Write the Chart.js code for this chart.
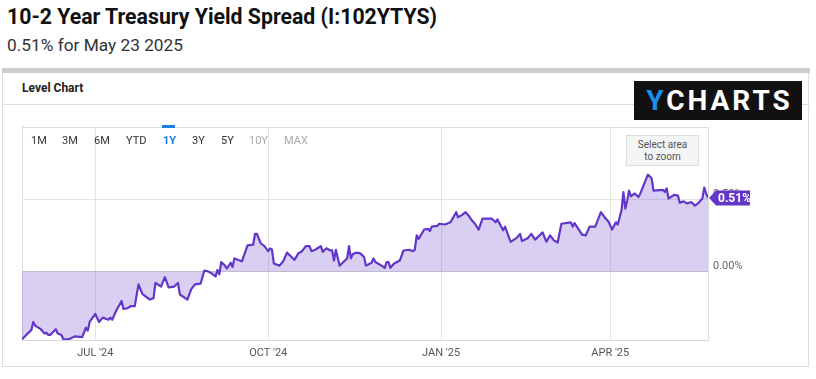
<!DOCTYPE html>
<html>
<head>
<meta charset="utf-8">
<script src="https://cdn.jsdelivr.net/npm/chart.js@4.4.1/dist/chart.umd.min.js"></script>
<style>
  html, body { margin: 0; padding: 0; background: #fff; width: 816px; height: 379px; overflow: hidden; font-family: Roboto, "Noto Sans", sans-serif; }
  .abs { position: absolute; white-space: nowrap; }
  #title { left: 7px; top: 4px; font-size: 22px; font-weight: 700; color: #111; transform-origin: 0 0; }
  #subtitle { left: 7px; top: 35px; font-size: 17px; color: #333; transform-origin: 0 0; }
  #topbar { left: 2px; top: 68px; width: 808px; height: 5px; background: #cccccc; }
  #card { left: 2px; top: 73px; width: 807px; height: 294px; border: 1px solid #dddddd; border-top: none; box-sizing: border-box; }
  #sep { left: 2px; top: 104px; width: 808px; height: 1px; background: #dddddd; }
  #level { left: 22px; top: 81px; font-size: 12px; font-weight: 700; color: #222; }
  #logo { left: 634px; top: 81px; width: 168px; height: 39px; background: #111; color: #fff; font-size: 28px; font-weight: 700; line-height: 40px; text-align: center; letter-spacing: 3px; text-indent: 3px; }
  #logo span { color: #1a8fe8; }
  canvas { position: absolute; left: 0; top: 0; }
  .btn { top: 134px; font-size: 11px; color: #333; }
  #activebar { left: 162px; top: 125px; width: 13px; height: 3px; background: #1a7fe0; }
  #zoombox { left: 626px; top: 135px; width: 73px; height: 31px; background: #f4f5f5; border: 1px solid #dddddd; box-sizing: border-box; font-size: 10px; color: #555; text-align: center; line-height: 12px; padding-top: 3px; }
</style>
</head>
<body>
<div id="title" class="abs">10-2 Year Treasury Yield Spread (I:102YTYS)</div>
<div id="subtitle" class="abs">0.51% for May 23 2025</div>
<div id="topbar" class="abs"></div>
<div id="card" class="abs"></div>
<div id="sep" class="abs"></div>
<div id="level" class="abs">Level Chart</div>
<div id="logo" class="abs"><span>Y</span>CHARTS</div>
<canvas id="c" width="816" height="379"></canvas>
<div id="activebar" class="abs"></div>
<div class="abs btn" style="left:31px">1M</div>
<div class="abs btn" style="left:62px">3M</div>
<div class="abs btn" style="left:94px">6M</div>
<div class="abs btn" style="left:126px">YTD</div>
<div class="abs btn" style="left:163px;color:#1a7fe0;font-weight:700">1Y</div>
<div class="abs btn" style="left:192px">3Y</div>
<div class="abs btn" style="left:221px">5Y</div>
<div class="abs btn" style="left:249px;color:#aaa">10Y</div>
<div class="abs btn" style="left:284px;color:#aaa">MAX</div>
<div id="zoombox" class="abs">Select area<br>to zoom</div>
<script>
// ---- Data (days since start date, spread in %) ----
const startDate = '2024-05-23';
const dayOffsets = [0,5,6,7,10,12,13,14,15,18,19,21,22,25,28,32,34,35,36,39,41,43,46,47,48,50,53,54,56,58,60,62,64,68,70,71,74,76,78,81,83,84,88,90,92,95,97,99,101,103,104,105,106,108,109,111,112,113,117,120,123,124,125,127,129,131,132,133,134,137,139,141,143,145,147,149,151,153,154,156,159,160,162,164,165,166,167,169,171,173,174,175,176,178,180,182,183,186,187,188,190,193,194,195,196,198,201,203,206,208,209,210,211,214,216,217,218,221,222,225,228,231,232,234,236,238,239,241,243,245,250,252,253,255,256,257,260,263,265,266,269,271,273,275,277,279,281,283,285,287,292,293,294,296,298,300,302,305,308,310,312,314,316,317,318,319,320,321,322,323,324,325,326,328,329,333,335,336,341,342,343,344,347,349,350,352,354,356,357,358,360,362,363,364,365];
const spreadValues = [-0.47,-0.405,-0.35,-0.375,-0.40,-0.43,-0.425,-0.44,-0.44,-0.40,-0.43,-0.44,-0.47,-0.47,-0.45,-0.455,-0.39,-0.41,-0.35,-0.295,-0.35,-0.32,-0.335,-0.32,-0.335,-0.275,-0.205,-0.26,-0.255,-0.24,-0.24,-0.09,-0.155,-0.195,-0.185,-0.08,-0.105,-0.04,-0.11,-0.105,-0.08,-0.16,-0.195,-0.125,-0.09,-0.085,0.005,0.00,-0.015,-0.035,0.01,-0.02,0.065,0.04,0.02,0.06,0.03,0.09,0.07,0.18,0.185,0.26,0.26,0.195,0.175,0.14,0.16,0.15,0.055,0.04,0.07,0.13,0.105,0.08,0.125,0.14,0.175,0.175,0.14,0.15,0.175,0.135,0.16,0.145,0.145,0.075,0.15,0.04,0.065,0.09,0.175,0.09,0.12,0.13,0.125,0.10,0.04,0.06,0.09,0.065,0.05,0.025,0.065,0.065,0.025,0.055,0.075,0.145,0.15,0.14,0.15,0.25,0.225,0.29,0.295,0.28,0.31,0.315,0.33,0.325,0.34,0.41,0.375,0.39,0.41,0.38,0.36,0.33,0.29,0.365,0.365,0.34,0.36,0.31,0.285,0.31,0.205,0.23,0.26,0.21,0.23,0.26,0.22,0.245,0.27,0.205,0.25,0.215,0.20,0.33,0.34,0.31,0.335,0.295,0.255,0.25,0.31,0.31,0.41,0.375,0.345,0.29,0.34,0.325,0.375,0.425,0.55,0.435,0.49,0.56,0.52,0.53,0.54,0.515,0.54,0.67,0.645,0.56,0.565,0.55,0.575,0.505,0.53,0.525,0.475,0.485,0.47,0.48,0.47,0.455,0.475,0.505,0.58,0.54,0.51];
const tickDays = [39, 131, 223, 313];
const tickLabels = ["JUL '24", "OCT '24", "JAN '25", "APR '25"];
const yTickValues = [0, 0.5];
const lastLabel = '0.51%';

// fit title widths
function fitWidth(id, target) {
  const el = document.getElementById(id);
  const w = el.getBoundingClientRect().width;
  el.style.transform = 'scaleX(' + (target / w) + ')';
}
fitWidth('title', 430);
fitWidth('subtitle', 176);

const LINE = '#6236c9';

const framePlugin = {
  id: 'frame',
  beforeDatasetsDraw(chart) {
    const { ctx, chartArea: a } = chart;
    ctx.save();
    ctx.strokeStyle = '#dddddd';
    ctx.lineWidth = 1;
    ctx.beginPath();
    ctx.moveTo(a.left, a.top + 0.5); ctx.lineTo(a.right, a.top + 0.5);
    ctx.moveTo(a.left + 0.5, a.top - 2); ctx.lineTo(a.left + 0.5, a.bottom);
    ctx.moveTo(a.right + 0.5, a.top); ctx.lineTo(a.right + 0.5, a.bottom);
    ctx.stroke();
    ctx.restore();
  },
  afterDraw(chart) {
    const { ctx, chartArea: a } = chart;
    const ys = chart.scales.y;
    const y = Math.round(ys.getPixelForValue(spreadValues[spreadValues.length - 1]));
    const x0 = a.right + 1;
    ctx.save();
    ctx.fillStyle = LINE;
    ctx.beginPath();
    ctx.moveTo(x0, y);
    ctx.lineTo(x0 + 7, y - 7.5);
    ctx.lineTo(x0 + 41, y - 7.5);
    ctx.lineTo(x0 + 41, y + 7.5);
    ctx.lineTo(x0 + 7, y + 7.5);
    ctx.closePath();
    ctx.fill();
    ctx.fillStyle = '#fff';
    ctx.font = 'bold 12px Roboto';
    ctx.textBaseline = 'middle';
    ctx.textAlign = 'left';
    ctx.fillText(lastLabel, x0 + 9, y + 1);
    ctx.restore();
  }
};

new Chart(document.getElementById('c'), {
  type: 'line',
  data: {
    datasets: [{
      data: dayOffsets.map((d, i) => ({ x: d, y: spreadValues[i] })),
      borderColor: LINE,
      borderWidth: 2.2,
      backgroundColor: 'rgba(98,54,201,0.24)',
      fill: 'origin',
      pointRadius: 0,
      tension: 0,
      borderJoinStyle: 'round'
    }]
  },
  options: {
    responsive: false,
    animation: false,
    devicePixelRatio: 1,
    layout: { padding: { left: 22, top: 127, right: 0, bottom: 0 } },
    plugins: { legend: { display: false }, tooltip: { enabled: false } },
    scales: {
      x: {
        type: 'linear', min: 0, max: 365,
        afterBuildTicks: s => { s.ticks = tickDays.map(v => ({ value: v })); },
        afterFit: s => { s.height = 39; },
        ticks: {
          autoSkip: false, maxRotation: 0, padding: 7,
          color: '#555', font: { family: 'Roboto', size: 11 },
          callback: v => tickLabels[tickDays.indexOf(v)]
        },
        grid: { color: '#e4e4e4', drawTicks: false },
        border: { display: true, color: '#d8d8d8' }
      },
      y: {
        position: 'right', min: -0.475, max: 1.0,
        afterBuildTicks: s => { s.ticks = yTickValues.map(v => ({ value: v })); },
        afterFit: s => { s.width = 108; },
        ticks: {
          padding: 5, labelOffset: -5,
          color: '#666', font: { family: 'Roboto', size: 11 },
          callback: v => v.toFixed(2) + '%'
        },
        grid: { color: c => (c.tick && c.tick.value === 0) ? '#cccccc' : '#e4e4e4', drawTicks: false },
        border: { display: false }
      }
    }
  },
  plugins: [framePlugin]
});
</script>
</body>
</html>
